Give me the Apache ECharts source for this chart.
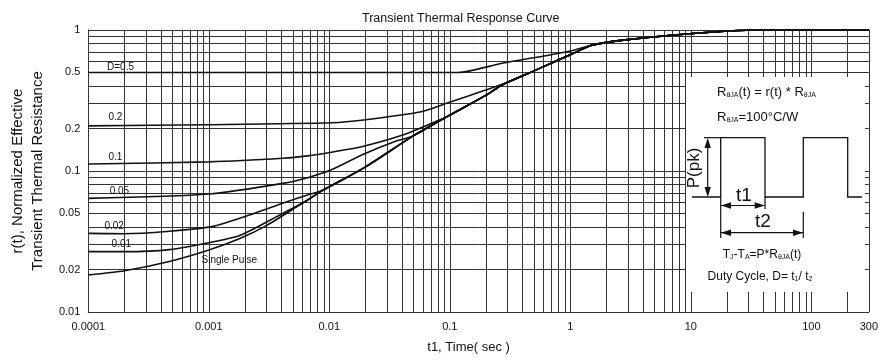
<!DOCTYPE html>
<html><head><meta charset="utf-8">
<script src="https://cdn.jsdelivr.net/npm/echarts@6/dist/echarts.min.js"></script>
<style>html,body{margin:0;padding:0;background:#fff}#c{width:881px;height:361px}</style>
</head><body><div id="c"></div>
<script>
// ---- axis ticks ----
const xTickValues = [0.0001, 0.001, 0.01, 0.1, 1, 10, 100, 300];
const xTickLabels = ['0.0001', '0.001', '0.01', '0.1', '1', '10', '100', '300'];
const yTickValues = [0.01, 0.02, 0.05, 0.1, 0.2, 0.5, 1];
const yTickLabels = ['0.01', '0.02', '0.05', '0.1', '0.2', '0.5', '1'];
// ---- grid-paper lines ----
const xGridDecades = [0.0001, 0.001, 0.01, 0.1, 1, 10];
const xGridExtra = [100, 200, 300];
const yGridDecades = [0.01, 0.1];
const yGridExtra = [1];
const gridMultipliers = [1, 2, 3, 4, 5, 6, 7, 8, 9];

// ---- curves: [t1 (s), r(t)] ----
const trunk = [[0.0089,0.0733],[0.02,0.107],[0.05,0.178],[0.094,0.242],[0.2,0.345],[0.271,0.407],[0.5,0.513],[1,0.667],[1.53,0.783],[3.2,0.86],[9.3,0.937],[20.7,0.984],[38.9,1.0],[300,1.0]];
const singlePulseHead = [[0.0001,0.0183],[0.0002,0.0196],[0.00047,0.0228],[0.001,0.0275],[0.00185,0.0335],[0.003,0.041],[0.0056,0.057]];
const d001Head = [[0.0001,0.0268],[0.0002,0.0268],[0.00047,0.0277],[0.001,0.031],[0.00185,0.0352],[0.0041,0.050],[0.0066,0.062]];
const d002Head = [[0.0001,0.0361],[0.0002,0.0359],[0.001,0.040],[0.00185,0.0466],[0.0041,0.059],[0.0066,0.0676]];
const d005Head = [[0.0001,0.064],[0.001,0.0687],[0.0041,0.0817],[0.0066,0.0897],[0.0104,0.102],[0.0194,0.132],[0.035,0.162]];
const d01Head = [[0.0001,0.112],[0.001,0.116],[0.0041,0.123],[0.0066,0.128],[0.0104,0.136],[0.0193,0.150],[0.04,0.179],[0.075,0.223]];
const d02Head = [[0.0001,0.209],[0.001,0.213],[0.0105,0.220],[0.0193,0.230],[0.0578,0.263],[0.094,0.302],[0.198,0.375],[0.33,0.438]];
const d05Head = [[0.0001,0.5],[0.117,0.5],[0.271,0.581],[0.94,0.702]];
const curveNames = ['Single Pulse', '0.01', '0.02', '0.05', '0.1', '0.2', 'D=0.5'];
const curveHeads = [singlePulseHead, d001Head, d002Head, d005Head, d01Head, d02Head, d05Head];
const mergeIntoTrunkAt = [0.0089, 0.0089, 0.0089, 0.05, 0.094, 0.5, 1.53];
// curve label anchors [text, t1, r]
const curveLabels = [['D=0.5',1.85e-4,0.547],['0.2',1.68e-4,0.2415],['0.1',1.68e-4,0.1257],['0.05',1.81e-4,0.0722],['0.02',1.64e-4,0.0407],['0.01',1.88e-4,0.0304],['Single Pulse',1.48e-3,0.0234]];

const FONT = "'Liberation Sans', Arial, sans-serif";
const INK = '#111';

function fmt(values, labels) {
  return function (v) {
    let best = 0, bd = Infinity;
    values.forEach((t, i) => { const d = Math.abs(Math.log10(v) - Math.log10(t)); if (d < bd) { bd = d; best = i; } });
    return labels[best];
  };
}
const xGrid = [];
xGridDecades.forEach(d => gridMultipliers.forEach(m => xGrid.push(+(d * m).toPrecision(6))));
xGridExtra.forEach(v => xGrid.push(v));
const yGrid = [];
yGridDecades.forEach(d => gridMultipliers.forEach(m => yGrid.push(+(d * m).toPrecision(6))));
yGridExtra.forEach(v => yGrid.push(v));

const curveSeries = curveNames.map((n, i) => ({
  name: n, type: 'line', showSymbol: false, smooth: 0.25, silent: true, z: 5,
  lineStyle: { color: INK, width: 1.6 },
  data: curveHeads[i].concat(trunk.filter(p => p[0] >= mergeIntoTrunkAt[i]))
}));

const gridSeries = {
  type: 'line', data: [], silent: true, z: 1,
  markLine: {
    silent: true, symbol: ['none', 'none'], animation: false, precision: 8,
    label: { show: false },
    lineStyle: { type: 'solid', color: '#333', width: 1 },
    data: xGrid.map(v => ({ xAxis: v })).concat(yGrid.map(v => ({ yAxis: v })))
  }
};
const labelSeries = {
  type: 'line', data: [], silent: true, z: 6,
  markPoint: {
    silent: true, symbol: 'circle', symbolSize: 1, itemStyle: { color: 'rgba(0,0,0,0)' },
    label: { show: true, position: 'inside', formatter: '{b}', color: INK, fontFamily: FONT, fontSize: 10 },
    data: curveLabels.map(l => ({ name: l[0], coord: [l[1], l[2]] }))
  }
};

// inset diagram
const s = { s: { fontSize: 7, verticalAlign: 'bottom', fill: INK, fontFamily: FONT } };
function txt(x, y, text, size, align) {
  return { type: 'text', x: x, y: y, z: 101,
    style: { text: text, fill: INK, fontFamily: FONT, fontSize: size, textAlign: align || 'left', verticalAlign: 'middle', rich: s } };
}
function line(pts, w) { return { type: 'polyline', z: 101, shape: { points: pts }, style: { stroke: INK, lineWidth: w || 1.2, fill: null } }; }
function tri(pts) { return { type: 'polygon', z: 102, shape: { points: pts }, style: { fill: INK } }; }
const pk = txt(694, 168, 'P(pk)', 17, 'center'); pk.rotation = Math.PI / 2;
const graphic = [
  { type: 'rect', z: 100, shape: { x: 686, y: 77, width: 179, height: 215 }, style: { fill: '#fff' } },
  txt(717, 92, 'R{s|θJA}(t) = r(t) * R{s|θJA}', 13),
  txt(717, 117, 'R{s|θJA}=100°C/W', 13),
  line([[692,197],[720.7,197],[720.7,137.7],[765,137.7],[765,197],[803.3,197],[803.3,137.7],[847.7,137.7],[847.7,197],[862,197]], 1.3),
  line([[704,137.7],[720.7,137.7]], 1.2),
  line([[707.7,140],[707.7,195]], 1.2),
  tri([[707.7,138],[704.5,148],[710.9,148]]),
  tri([[707.7,197],[704.5,187],[710.9,187]]),
  pk,
  line([[720.7,197],[720.7,238]], 1.2),
  line([[765,197],[765,209]], 1.2),
  line([[803.3,212],[803.3,238]], 1.2),
  line([[721,205.5],[764.5,205.5]], 1.2),
  tri([[721,205.5],[731,202.3],[731,208.7]]),
  tri([[764.7,205.5],[754.7,202.3],[754.7,208.7]]),
  line([[721,232.7],[803,232.7]], 1.2),
  tri([[721,232.7],[731,229.5],[731,235.9]]),
  tri([[803,232.7],[793,229.5],[793,235.9]]),
  txt(744, 196, 't1', 19, 'center'),
  txt(763, 222, 't2', 19, 'center'),
  txt(762, 255, 'T{s|J}-T{s|A}=P*R{s|θJA}(t)', 12, 'center'),
  txt(760, 277, 'Duty Cycle, D= t{s|1}/ t{s|2}', 12, 'center')
];

const chart = echarts.init(document.getElementById('c'), null, { renderer: 'canvas' });
chart.setOption({
  animation: false,
  backgroundColor: '#fff',
  title: { text: 'Transient Thermal Response Curve', left: 357, top: 7,
    textStyle: { fontFamily: FONT, fontSize: 12.5, fontWeight: 'normal', color: INK } },
  grid: { left: 75, right: 4, top: 30, bottom: 49 },
  xAxis: {
    type: 'log', logBase: 10, min: 0.0001, max: 300,
    name: 't1, Time( sec )', nameLocation: 'middle', nameGap: 29,
    nameTextStyle: { fontFamily: FONT, fontSize: 13, color: INK, padding: [0, 20, 0, 0] },
    axisLine: { show: true, lineStyle: { color: '#000', width: 1 } },
    axisTick: { show: false }, splitLine: { show: false }, minorSplitLine: { show: false },
    axisLabel: { customValues: xTickValues, formatter: fmt(xTickValues, xTickLabels), margin: 9,
      fontFamily: FONT, fontSize: 11, color: INK, showMaxLabel: true, showMinLabel: true, hideOverlap: false }
  },
  yAxis: {
    type: 'log', logBase: 10, min: 0.01, max: 1,
    name: 'r(t), Normalized Effective\nTransient Thermal Resistance', nameLocation: 'middle', nameGap: 32,
    nameTextStyle: { fontFamily: FONT, fontSize: 15, lineHeight: 20, color: INK },
    axisLine: { show: true, lineStyle: { color: '#000', width: 1 } },
    axisTick: { show: false }, splitLine: { show: false },
    axisLabel: { customValues: yTickValues, formatter: fmt(yTickValues, yTickLabels), margin: 8,
      fontFamily: FONT, fontSize: 11, color: INK, hideOverlap: false }
  },
  graphic: graphic,
  series: [gridSeries].concat(curveSeries).concat([labelSeries])
});
</script></body></html>
